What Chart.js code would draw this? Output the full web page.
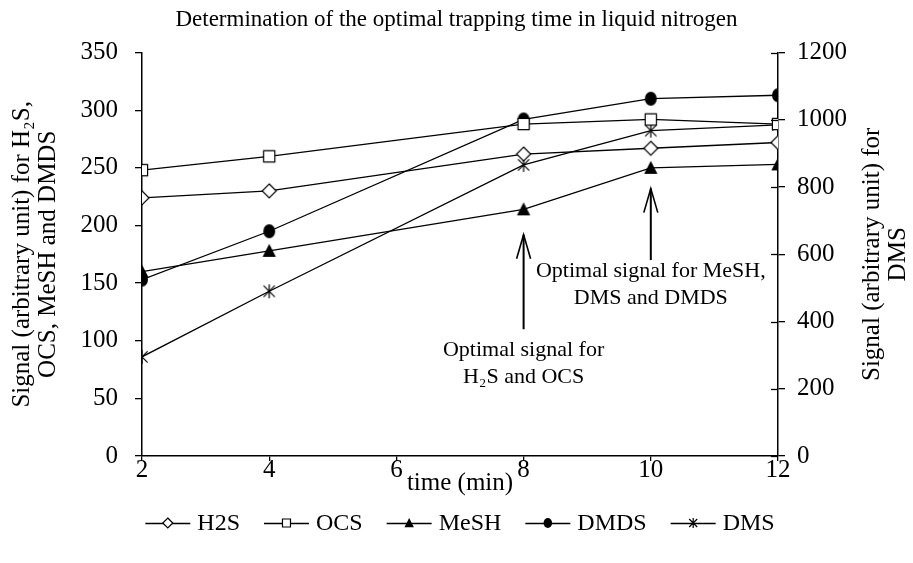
<!DOCTYPE html>
<html>
<head>
<meta charset="utf-8">
<script src="https://cdn.jsdelivr.net/npm/chart.js@4.4.1/dist/chart.umd.min.js"></script>
<style>
html,body{margin:0;padding:0;background:#fff;}
#wrap{width:913px;height:563px;position:relative;}
</style>
</head>
<body>
<div id="wrap"><canvas id="c" width="913" height="563"></canvas></div>
<script>
// ---- data ----
const times = [2, 4, 8, 10, 12];
const h2s  = [224, 230, 262, 267, 272];
const ocs  = [248, 260, 288, 292, 288];
const mesh = [160, 178, 214, 250, 253];
const dmds = [153, 195, 292, 310, 313];
const dms  = [295, 490, 866, 968, 985];   // right axis
const seriesNames = ['H2S', 'OCS', 'MeSH', 'DMDS', 'DMS'];
const xTicks = [2, 4, 6, 8, 10, 12];
const leftTicks = [0, 50, 100, 150, 200, 250, 300, 350];
const rightTicks = [0, 200, 400, 600, 800, 1000, 1200];

const FONT = "'Liberation Serif', 'Times New Roman', serif";

// ---- marker images ----
function drawMarker(g, type, m, s) {
  g.lineWidth = 1.2; g.strokeStyle = '#000'; g.fillStyle = '#000';
  g.beginPath();
  if (type === 'diamond') {
    g.moveTo(m, m - s); g.lineTo(m + s, m); g.lineTo(m, m + s); g.lineTo(m - s, m); g.closePath();
    g.fillStyle = '#fff'; g.fill(); g.stroke();
  } else if (type === 'square') {
    const a = s * 0.8;
    g.rect(m - a, m - a, 2 * a, 2 * a);
    g.fillStyle = '#fff'; g.fill(); g.stroke();
  } else if (type === 'triangle') {
    g.moveTo(m, m - s); g.lineTo(m + s * 0.95, m + s * 0.85); g.lineTo(m - s * 0.95, m + s * 0.85); g.closePath();
    g.fill();
  } else if (type === 'circle') {
    g.ellipse(m, m, s * 0.85, s, 0, 0, Math.PI * 2);
    g.fill();
  } else if (type === 'asterisk') {
    const a = s * 0.8;
    g.moveTo(m - a, m - a); g.lineTo(m + a, m + a);
    g.moveTo(m + a, m - a); g.lineTo(m - a, m + a);
    g.moveTo(m, m - s); g.lineTo(m, m + s);
    g.stroke();
  }
}
function markerImage(type, s) {
  const size = Math.ceil(2 * s + 4);
  const c = document.createElement('canvas');
  c.width = size; c.height = size;
  drawMarker(c.getContext('2d'), type, size / 2, s);
  return c;
}
const markerTypes = ['diamond', 'square', 'triangle', 'circle', 'asterisk'];
const seriesValues = [h2s, ocs, mesh, dmds, dms];
const seriesAxis = ['y', 'y', 'y', 'y', 'y1'];

const datasets = seriesNames.map((name, i) => ({
  label: name,
  data: times.map((t, k) => ({x: t, y: seriesValues[i][k]})),
  yAxisID: seriesAxis[i],
  borderColor: '#000',
  backgroundColor: '#000',
  borderWidth: 1.3,
  tension: 0,
  fill: false,
  pointStyle: markerImage(markerTypes[i], 7),
  pointRadius: 7,
  pointHoverRadius: 7,
  markerType: markerTypes[i]
}));

// ---- annotations (arrows + text), in data units of x / left axis ----
const notes = [
  {x: 8,  tip: 192, base: 110, lines: ['Optimal signal for', 'H\u2082S and OCS'], textY: [92, 68]},
  {x: 10, tip: 232, base: 170, lines: ['Optimal signal for MeSH,', 'DMS and DMDS'], textY: [160, 137]}
];

const extras = {
  id: 'extras',
  afterDraw(chart) {
    const ctx = chart.ctx;
    const xs = chart.scales.x, ys = chart.scales.y, yr = chart.scales.y1;
    ctx.save();
    // inner half of right-axis ticks
    ctx.strokeStyle = '#000'; ctx.lineWidth = 1.3;
    rightTicks.forEach(v => {
      const py = Math.round(yr.getPixelForValue(v)) + 0.5;
      ctx.beginPath(); ctx.moveTo(yr.left - 7, py); ctx.lineTo(yr.left, py); ctx.stroke();
    });
    // arrows + labels
    ctx.fillStyle = '#000';
    ctx.font = '22px ' + FONT;
    ctx.textAlign = 'center'; ctx.textBaseline = 'middle';
    notes.forEach(n => {
      const px = xs.getPixelForValue(n.x);
      const pt = ys.getPixelForValue(n.tip);
      const pb = ys.getPixelForValue(n.base);
      ctx.lineWidth = 2;
      ctx.beginPath(); ctx.moveTo(px, pb); ctx.lineTo(px, pt); ctx.stroke();
      ctx.lineWidth = 1.6;
      ctx.beginPath(); ctx.moveTo(px - 7, pt + 24); ctx.lineTo(px, pt); ctx.lineTo(px + 7, pt + 24); ctx.stroke();
      n.lines.forEach((t, k) => ctx.fillText(t, px, ys.getPixelForValue(n.textY[k])));
    });
    // right axis title (reads bottom to top)
    ctx.save();
    ctx.font = '25px ' + FONT;
    const cy = (chart.chartArea.top + chart.chartArea.bottom) / 2;
    ctx.translate(872, cy); ctx.rotate(-Math.PI / 2);
    ctx.fillText('Signal (arbitrary unit) for', 0, 0);
    ctx.fillText('DMS', 0, 26);
    ctx.restore();
    // legend
    ctx.font = '24px ' + FONT;
    ctx.textAlign = 'left';
    const segW = 45, gapT = 7, gapItem = 24;
    const widths = chart.data.datasets.map(d => segW + gapT + ctx.measureText(d.label).width);
    const total = widths.reduce((a, b) => a + b, 0) + gapItem * (widths.length - 1);
    let lx = (chart.chartArea.left + chart.chartArea.right) / 2 - total / 2;
    const ly = 523;
    chart.data.datasets.forEach((d, i) => {
      ctx.lineWidth = 1.3; ctx.strokeStyle = '#000';
      ctx.beginPath(); ctx.moveTo(lx, ly + 0.5); ctx.lineTo(lx + segW, ly + 0.5); ctx.stroke();
      ctx.save(); ctx.translate(lx + segW / 2 - 6, ly - 6);
      drawMarker(ctx, d.markerType, 6, 5);
      ctx.restore();
      ctx.fillStyle = '#000';
      ctx.fillText(d.label, lx + segW + gapT, ly + 1);
      lx += widths[i] + gapItem;
    });
    ctx.restore();
  }
};

const tickFont = {family: FONT, size: 25};
const axisCommon = {
  grid: {display: true, drawOnChartArea: false, drawTicks: true, tickLength: 7, color: '#000', lineWidth: 1.3},
  border: {display: true, color: '#000', width: 1.5}
};
const plain = v => String(v);

new Chart(document.getElementById('c'), {
  type: 'line',
  data: {datasets},
  options: {
    responsive: false,
    animation: false,
    events: [],
    layout: {padding: {left: 0, right: 0, top: 0, bottom: 65}},
    plugins: {
      legend: {display: false},
      tooltip: {enabled: false},
      title: {
        display: true,
        text: 'Determination of the optimal trapping time in liquid nitrogen',
        color: '#000',
        font: {family: FONT, size: 23, weight: 'normal'},
        padding: {top: 6, bottom: 19}
      }
    },
    scales: {
      x: {
        type: 'linear', min: 2, max: 12,
        ...axisCommon,
        grid: {...axisCommon.grid, tickLength: 5},
        afterBuildTicks: s => { s.ticks = xTicks.map(v => ({value: v})); },
        afterFit: s => { s.height = 42; },
        ticks: {color: '#000', font: tickFont, padding: -6, maxRotation: 0, callback: plain},
        title: {display: true, text: 'time (min)', color: '#000', font: {family: FONT, size: 25}, padding: {top: 0, bottom: 0}}
      },
      y: {
        type: 'linear', position: 'left', min: 0, max: 350,
        ...axisCommon,
        afterBuildTicks: s => { s.ticks = leftTicks.map(v => ({value: v})); },
        afterFit: s => { s.width = 142; },
        ticks: {color: '#000', font: tickFont, padding: 17, callback: plain},
        title: {display: true, text: ['Signal (arbitrary unit) for H\u2082S,', 'OCS, MeSH and DMDS'], color: '#000',
                font: {family: FONT, size: 25, lineHeight: 1.04}, padding: {top: 9, bottom: 0}}
      },
      y1: {
        type: 'linear', position: 'right', min: 0, max: 1200,
        ...axisCommon,
        afterBuildTicks: s => { s.ticks = rightTicks.map(v => ({value: v})); },
        afterFit: s => { s.width = 135; },
        ticks: {color: '#000', font: tickFont, padding: 12, callback: plain}
      }
    }
  },
  plugins: [extras]
});
</script>
</body>
</html>
